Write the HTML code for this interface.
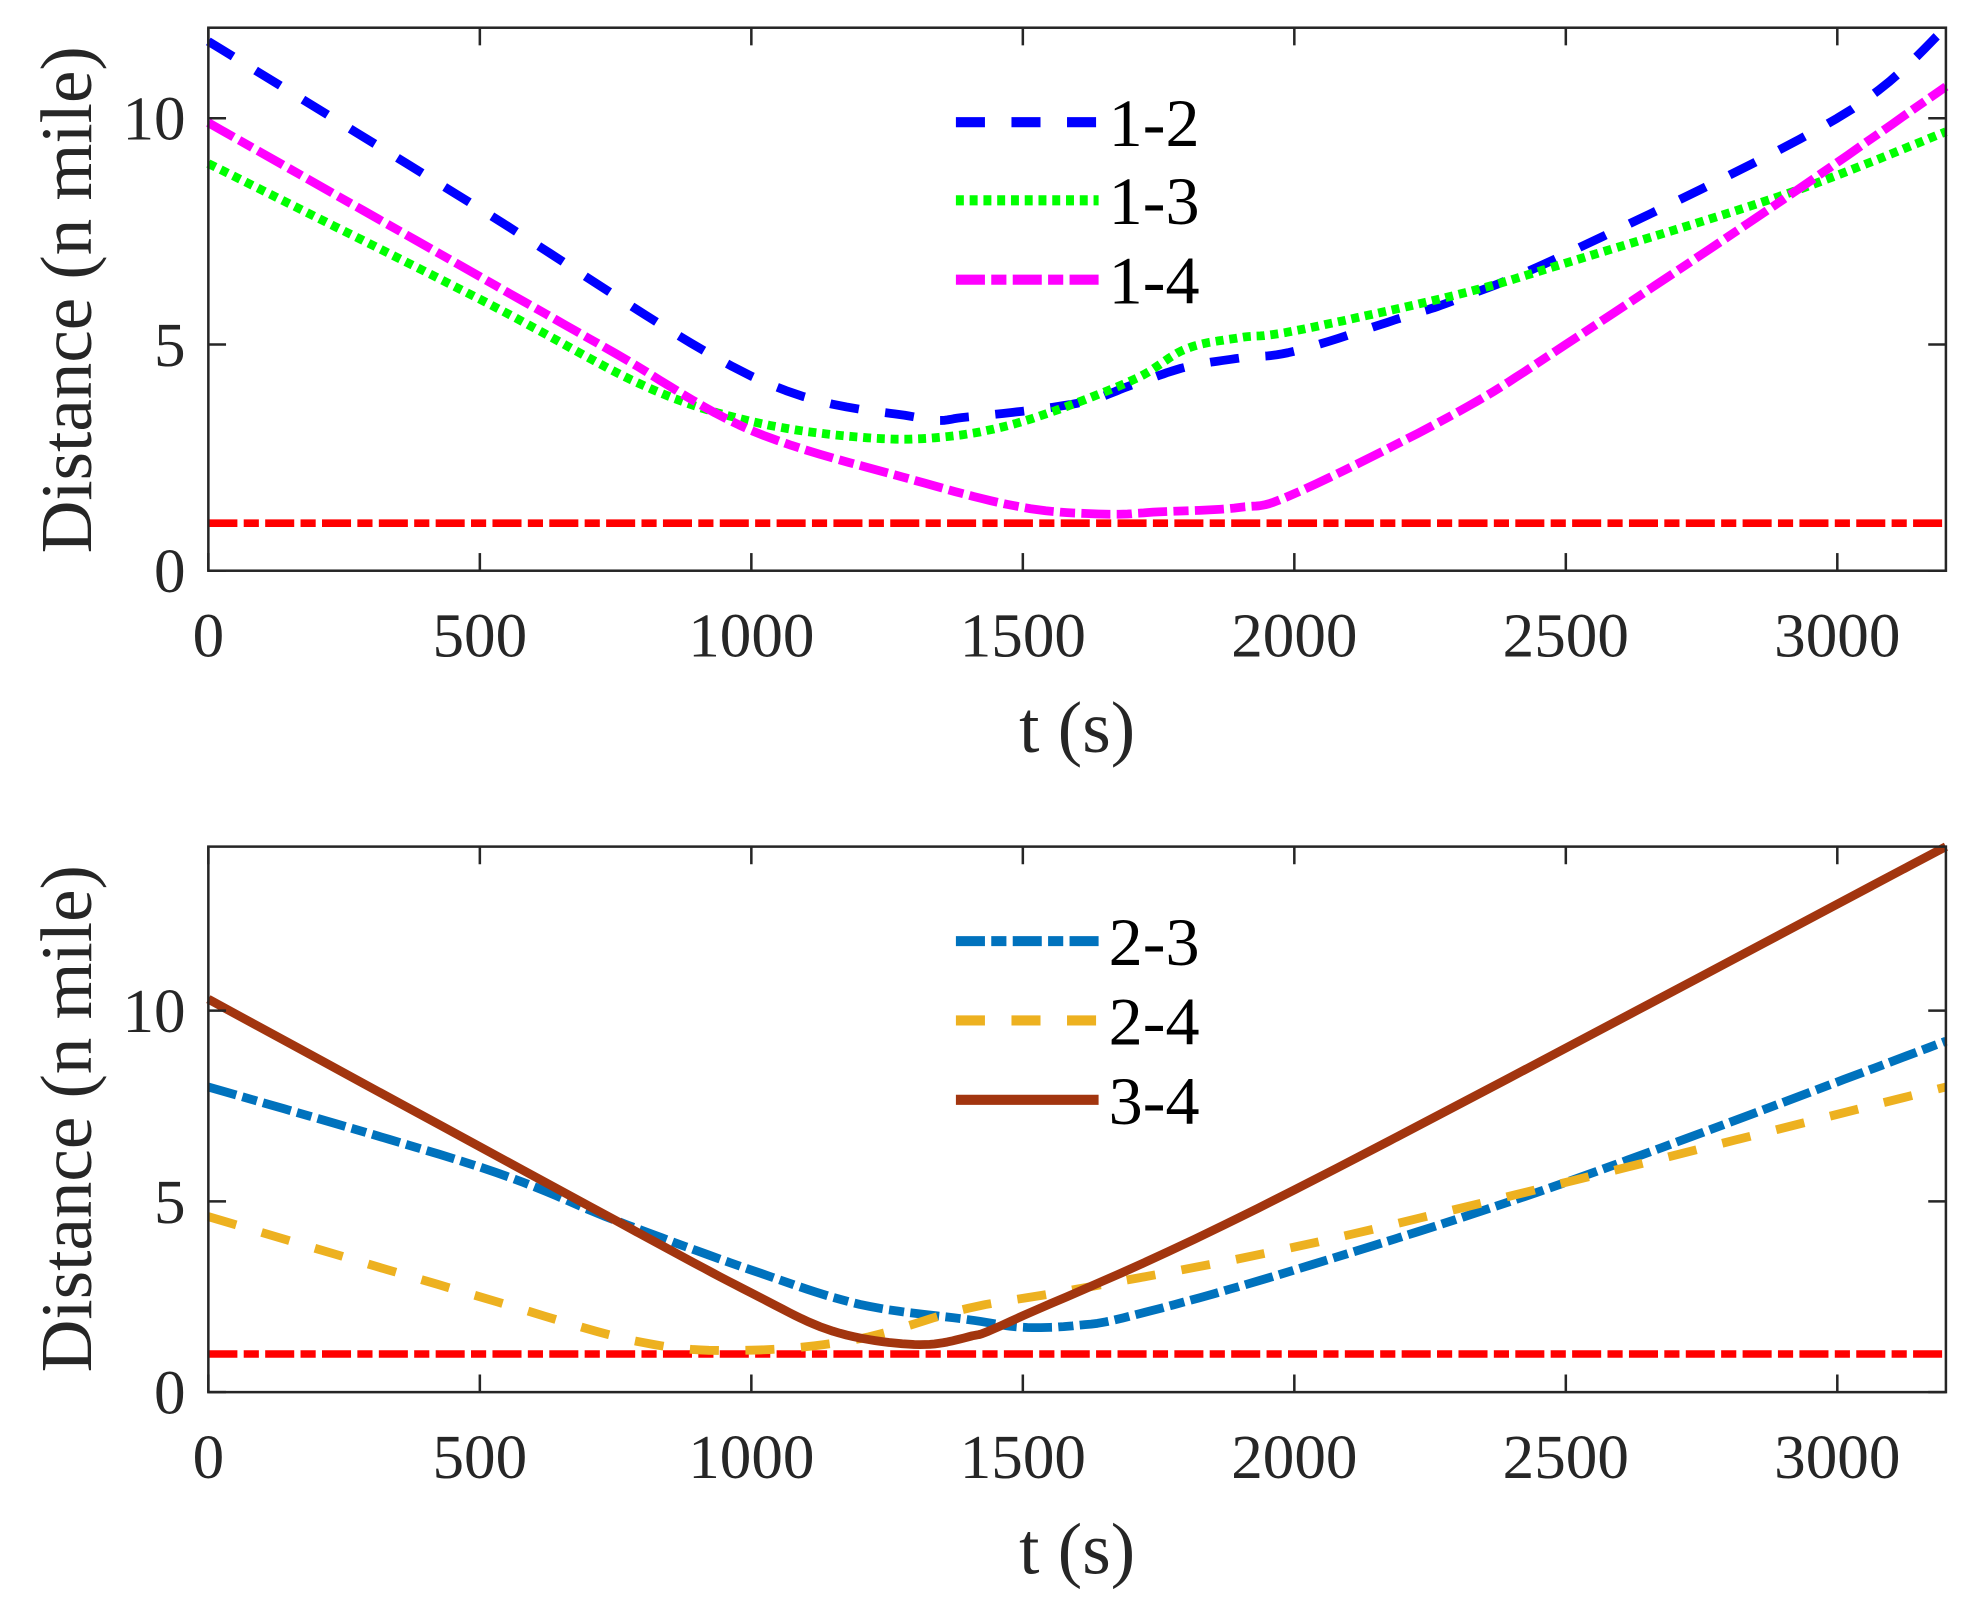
<!DOCTYPE html>
<html><head><meta charset="utf-8"><style>html,body{margin:0;padding:0;background:#fff}svg{display:block}svg text{font-family:"Liberation Serif","Times New Roman",serif}</style></head>
<body>
<svg id="s" width="1980" height="1600" viewBox="0 0 1568 1270" preserveAspectRatio="none" xmlns="http://www.w3.org/2000/svg">
<rect width="1568" height="1270" fill="#fff"/>
<g id="g"></g>
</svg>
<script>
const NS="http://www.w3.org/2000/svg",g=document.getElementById('g');
function el(t,a,txt){const e=document.createElementNS(NS,t);for(const k in a)e.setAttribute(k,a[k]);if(txt!==undefined)e.textContent=txt;g.appendChild(e);return e;}
function smooth(pts,n){
 const out=[];for(let i=0;i<pts.length-1;i++){const p0=pts[Math.max(i-1,0)],p1=pts[i],p2=pts[i+1],p3=pts[Math.min(i+2,pts.length-1)];
 for(let j=0;j<n;j++){const t=j/n,t2=t*t,t3=t2*t;
 const f=(a,b,c,d)=>0.5*((2*b)+(-a+c)*t+(2*a-5*b+4*c-d)*t2+(-a+3*b-3*c+d)*t3);
 out.push([f(p0[0],p1[0],p2[0],p3[0]),f(p0[1],p1[1],p2[1],p3[1])]);}}
 out.push(pts[pts.length-1]);return out;}
function axes(ax){
 const {x0,x1,yT,yB,ymax}=ax;
 ax.X=t=>x0+(x1-x0)*t/3200; ax.Y=v=>yB-(yB-yT)*v/ymax;
 return ax;}
function drawFrame(ax,ylab){
 const {x0,x1,yT,yB}=ax;
 el('rect',{x:x0,y:yT,width:x1-x0,height:yB-yT,fill:'none',stroke:'#262626','stroke-width':2});
 for(let t=0;t<=3000;t+=500){const x=ax.X(t);
  el('line',{x1:x,y1:yB,x2:x,y2:yB-14,stroke:'#262626','stroke-width':2});
  el('line',{x1:x,y1:yT,x2:x,y2:yT+14,stroke:'#262626','stroke-width':2});
  el('text',{x:x,y:yB+68,'font-size':50,'text-anchor':'middle',fill:'#262626'},String(t));}
 for(const v of [0,5,10]){const y=ax.Y(v);
  el('line',{x1:x0,y1:y,x2:x0+14,y2:y,stroke:'#262626','stroke-width':2});
  el('line',{x1:x1,y1:y,x2:x1-14,y2:y,stroke:'#262626','stroke-width':2});
  el('text',{x:x0-18,y:y+17,'font-size':50,'text-anchor':'end',fill:'#262626'},String(v));}
 el('text',{x:(x0+x1)/2,y:yB+144,'font-size':58,'text-anchor':'middle',fill:'#262626'},'t (s)');
 el('text',{x:0,y:0,'font-size':58,'text-anchor':'middle',fill:'#262626',transform:`translate(72 ${ylab}) rotate(-90)`},'Distance (n mile)');
}
function series(ax,data,color,dash){
 const pts=smooth(data.map(d=>[ax.X(d[0]),ax.Y(d[1])]),12);
 el('polyline',{points:pts.map(p=>p[0].toFixed(1)+','+p[1].toFixed(1)).join(' '),fill:'none',stroke:color,'stroke-width':7,'stroke-dasharray':dash||'none','stroke-linejoin':'round'});
}
function legend(y,color,dash,label){
 el('line',{x1:757,y1:y,x2:870,y2:y,stroke:color,'stroke-width':8,'stroke-dasharray':dash||'none'});
 el('text',{x:878,y:y+19,'font-size':54,fill:'#000'},label);
}
const A=axes({x0:165,x1:1541,yT:22,yB:453,ymax:12});
const DASH='23 21',DOT='6.3 4.6',DD='23 5 12 5';
el('line',{x1:165,y1:A.Y(1.05),x2:1541,y2:A.Y(1.05),stroke:'#ff0000','stroke-width':6,'stroke-dasharray':DD});
series(A,[[0,11.7],[500,8],[1000,4.3],[1300,3.4],[1400,3.4],[1600,3.7],[1700,4.1],[1800,4.5],[1900,4.7],[2000,4.85],[2200,5.6],[2300,6],[2500,7],[3000,10],[3200,12]],'#0000ff',DASH);
series(A,[[0,9],[500,6],[800,4.1],[1000,3.3],[1200,2.95],[1350,2.95],[1500,3.3],[1700,4.2],[1800,4.9],[1900,5.15],[2000,5.3],[2300,6.1],[2500,6.8],[2900,8.3],[3200,9.7]],'#00ff00',DOT);
series(A,[[0,9.9],[500,6.5],[750,4.8],[1000,3.1],[1300,2.0],[1500,1.4],[1650,1.25],[1750,1.3],[1900,1.4],[2000,1.7],[2300,3.5],[2500,5],[2900,8.2],[3200,10.7]],'#ff00ff',DD);
drawFrame(A,238);
legend(97,'#0000ff',DASH,'1-2');
legend(159,'#00ff00',DOT,'1-3');
legend(222,'#ff00ff',DD,'1-4');

const B=axes({x0:165,x1:1541,yT:672,yB:1105,ymax:14.3});
el('line',{x1:165,y1:B.Y(1),x2:1541,y2:B.Y(1),stroke:'#ff0000','stroke-width':6,'stroke-dasharray':DD});
series(B,[[0,8],[500,5.9],[750,4.5],[1000,3.2],[1200,2.3],[1400,1.9],[1500,1.7],[1600,1.75],[1700,2],[2000,3.2],[2500,5.5],[3200,9.2]],'#0072bd',DD);
series(B,[[0,4.6],[500,2.5],[800,1.3],[1000,1.1],[1200,1.4],[1400,2.2],[1600,2.7],[2000,3.8],[2500,5.5],[3200,8]],'#edb120',DASH);
series(B,[[0,10.3],[750,4.5],[1000,2.6],[1150,1.6],[1300,1.25],[1400,1.45],[1500,2.0],[2000,5.3],[3200,14.3]],'#a2350f','');
drawFrame(B,888);
legend(747,'#0072bd',DD,'2-3');
legend(810,'#edb120',DASH,'2-4');
legend(873,'#a2350f','','3-4');
</script>
</body></html>
